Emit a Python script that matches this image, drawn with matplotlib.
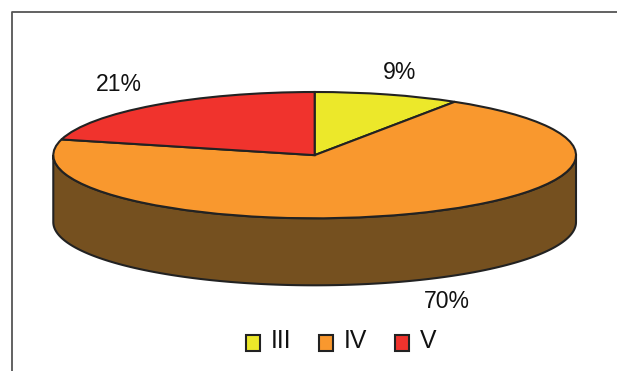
import numpy as np
import matplotlib
matplotlib.use("Agg")
import matplotlib.pyplot as plt
from matplotlib.legend_handler import HandlerPatch
from matplotlib.lines import Line2D
from matplotlib.patches import Rectangle, Wedge

plt.rcParams['font.family'] = ['Liberation Sans', 'DejaVu Sans']

# share of each class
labels = ['III', 'IV', 'V']
values = [9, 70, 21]
colors = ['#ECE82A', '#F9982E', '#F0332D']

W, H = 617, 371
EDGE = '#222222'
SIDE = '#75501F'
LW = 1.5


# square legend keys, sitting a little lower than the text
def square_key(legend, orig_handle, xdescent, ydescent, width, height, fontsize):
    return Rectangle((-xdescent, -ydescent - 2.2), width, height)


fig = plt.figure(figsize=(W / 100, H / 100), dpi=100, facecolor='white')

# chart border, open towards the right and bottom
fig.add_artist(Line2D([11.5 / W, 11.5 / W, 1], [0, 1 - 11.5 / H, 1 - 11.5 / H],
                      color='#555555', lw=1.3, transform=fig.transFigure))

# axes box is exactly the tilted top ellipse
ax = fig.add_axes([53.3 / W, 1 - 218.3 / H, 522.7 / W, 126.3 / H])
wedges, _ = ax.pie(values, colors=colors, startangle=90, counterclock=False,
                   radius=1, wedgeprops=dict(edgecolor=EDGE, linewidth=LW, zorder=3))
ax.set_aspect('auto')
ax.set_xlim(-1, 1)
ax.set_ylim(-1, 1)
for w in wedges:
    w.set_clip_on(False)

# side wall of the disc
depth = 2 * 67.0 / 126.3
t = np.linspace(np.pi, 2 * np.pi, 200)
xs = np.concatenate([np.cos(t), np.cos(t[::-1])])
ys = np.concatenate([np.sin(t), np.sin(t[::-1]) - depth])
ax.fill(xs, ys, facecolor=SIDE, edgecolor=EDGE, linewidth=LW, zorder=1, clip_on=False)

# percentage labels
label_pos = [(400, 79), (447, 307.5), (118.5, 91)]
for v, (px, py) in zip(values, label_pos):
    fig.text(px / W, 1 - py / H, f"{v}%", fontsize=16.6, ha='center', va='baseline',
             color='#111111')

fig.legend(wedges, labels, loc='center', bbox_to_anchor=(341 / W, 1 - 341.5 / H), ncol=3,
           frameon=False, fontsize=17.8, handlelength=0.58, handleheight=0.58,
           handletextpad=0.42, columnspacing=1.12, borderpad=0, labelcolor='#111111',
           handler_map={Wedge: HandlerPatch(patch_func=square_key)})

fig.savefig('out.png', dpi=100)
